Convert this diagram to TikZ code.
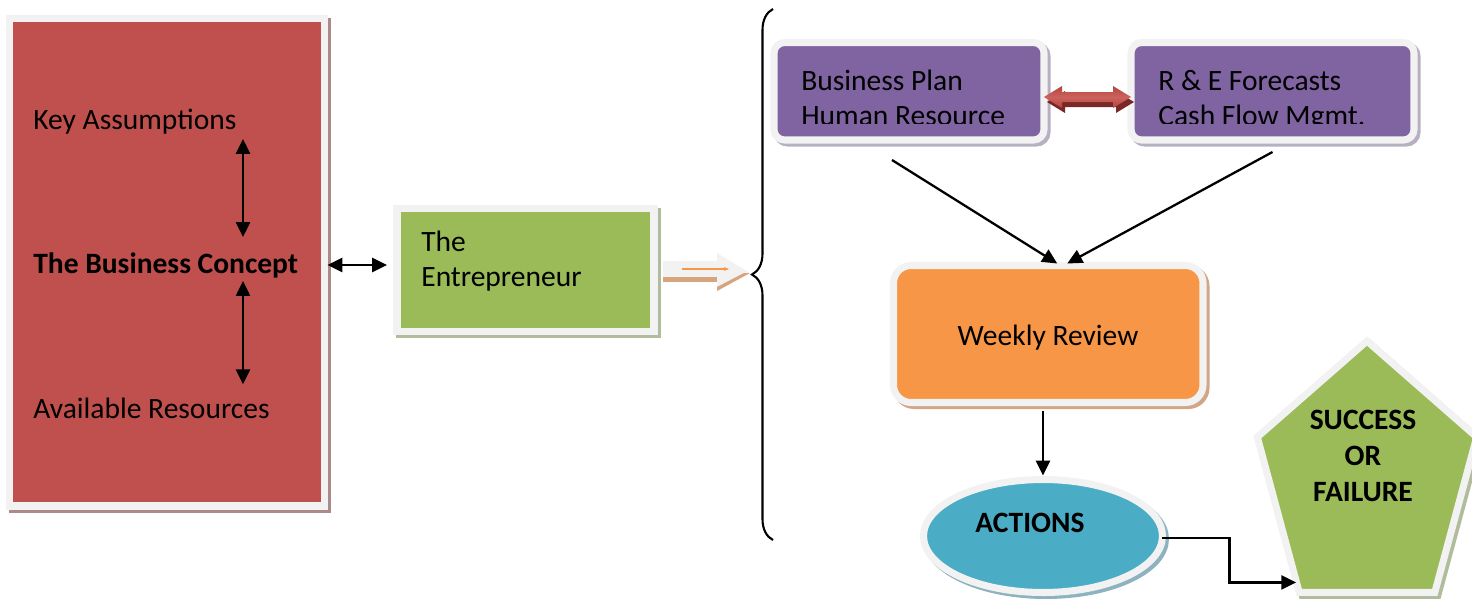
\documentclass[tikz,border=0pt]{standalone}
\usepackage{fontspec}
\setmainfont{Carlito}
\usetikzlibrary{arrows.meta,positioning,calc,fit,shapes.geometric,decorations.pathreplacing}

\definecolor{framegray}{HTML}{F2F2F2}
\definecolor{conceptred}{HTML}{C0504D}
\definecolor{entregreen}{HTML}{9BBB59}
\definecolor{planpurple}{HTML}{8064A2}
\definecolor{revieworange}{HTML}{F79646}
\definecolor{actionblue}{HTML}{4BACC6}
\definecolor{redshade}{HTML}{AD8A8A}
\definecolor{greenshade}{HTML}{B0BC9C}
\definecolor{purpleshade}{HTML}{B7B0C3}
\definecolor{orangeshade}{HTML}{D1A687}
\definecolor{blueshade}{HTML}{8DB3C0}
\definecolor{arrowred}{HTML}{B4443F}
\definecolor{arrowlight}{HTML}{CC625D}
\definecolor{arrowdark}{HTML}{7A2826}
\definecolor{tanstripe}{HTML}{D8A47E}

\begin{document}
\begin{tikzpicture}[
    x=0.02cm, y=-0.02cm,
    panel/.style={draw=framegray, line width=4pt, inner sep=0pt, outer sep=0pt, fill=#1},
    shade/.style={preaction={draw=#1, line width=4pt, transform canvas={xshift=1.7pt, yshift=-1.7pt}}},
    txt/.style={font=\fontsize{16.8}{19.8}\selectfont, inner sep=0pt},
    link/.style={-{Triangle[length=8.5pt,width=8pt]}, line width=1.3pt},
    both/.style={{Triangle[length=8.5pt,width=8pt]}-{Triangle[length=8.5pt,width=8pt]}, line width=1.3pt},
    darkarrow/.style={fill=arrowdark},
    litearrow/.style={top color=arrowred, bottom color=arrowred, middle color=arrowlight}
  ]
  \useasboundingbox (0,0) rectangle (1472,599);

  % left column: concept and entrepreneur
  \node[panel=conceptred, shade=redshade, fit={(9.5,18.5) (324.5,506)}] (concept) {};
  \node[txt, anchor=west] (keyass) at (33,122) {Key Assumptions};
  \node[txt, anchor=west] (bizconcept) at (33,265) {\bfseries The Business Concept};
  \node[txt, anchor=west] (resources) at (33,408) {Available Resources};
  \coordinate (ax) at (243,0);
  \draw[both] ($(keyass.south -| ax)+(0,4)$) -- ($(bizconcept.north -| ax)+(0,-15)$);
  \draw[both] ($(bizconcept.south -| ax)+(0,3)$) -- ($(resources.north -| ax)+(0,-13)$);

  \node[panel=entregreen, shade=greenshade, fit={(397,208.5) (654,331.5)}] (entre) {};
  \node[txt, anchor=north west, align=left] (entrelabel) at (421,231) {The\\Entrepreneur};
  \draw[both] ($(concept.east |- bizconcept)+(3,0)$) -- ($(entre.west |- bizconcept)+(-10,0)$);

  % block arrow into the brace
  \fill[framegray] (663,261) -- (717,261) -- (717,253) -- (750,273) -- (717,291) -- (717,282) -- (663,282) -- cycle;
  \fill[tanstripe] (663,277) rectangle (717,282);
  \fill[tanstripe] (717,291) -- (750,273) -- (744,273) -- (717,287) -- cycle;
  \draw[revieworange, line width=0.8pt, -{Stealth[length=3pt]}] (682,269) -- (729,269);

  \draw[line width=1.2pt, decorate, decoration={brace, amplitude=0.42cm}] (773,540) -- (773,9);

  % planning boxes
  \node[panel=planpurple, shade=purpleshade, rounded corners=6pt, fit={(774,42.5) (1044,140)}] (plan) {};
  \node[panel=planpurple, shade=purpleshade, rounded corners=6pt, fit={(1131,42.5) (1414,140)}] (forecast) {};
  \begin{scope}
    \clip (770,30) rectangle (1420,123);
    \node[txt, anchor=north west, align=left] (planlabel) at (801,70) {Business Plan\\Human Resource};
    \node[txt, anchor=north west, align=left] (forecastlabel) at (1158,70) {R \& E Forecasts\\Cash Flow Mgmt.};
  \end{scope}
  \foreach \dx/\dy/\sty in {3/5/darkarrow, 0/0/litearrow}
    \path[\sty, shift={(\dx,\dy)}] (1044,97) -- (1062,86) -- (1062,92) -- (1113,92) -- (1113,86)
      -- (1131,97) -- (1113,108) -- (1113,102) -- (1062,102) -- (1062,108) -- cycle;

  % review, actions, result
  \node[panel=revieworange, shade=orangeshade, rounded corners=10pt, fit={(893.5,265.5) (1203,402.5)}] (review) {};
  \node[txt] (reviewlabel) at (1048,338) {Weekly Review};
  \draw[link] ([shift={(-17,20)}]plan.south) -- ([shift={(9,-2)}]review.north);
  \draw[link] ([shift={(0,12)}]forecast.south) -- ([shift={(19,-2)}]review.north);

  \node[panel=actionblue, shade=blueshade, ellipse, minimum width=4.78cm, minimum height=2.26cm] (actions) at (1043,536) {};
  \node[txt] (actionslabel) at (1030,523) {\bfseries ACTIONS};
  \draw[link] ($(review.south -| actions.north)+(0,8)$) -- ($(actions.north)+(0,-4)$);

  \node[panel=entregreen, shade=greenshade, regular polygon, regular polygon sides=5,
        minimum size=5.56cm, xscale=0.83, transform shape] (result) at (1367,480) {};
  \node[txt, align=center, font=\fontsize{16.8}{20.4}\selectfont\bfseries] (resultlabel) at (1363,456) {SUCCESS\\OR\\FAILURE};
  \coordinate (resin) at ($(result.corner 3)+(-3,-10)$);
  \draw[link] ([shift={(0,2)}]actions.east) -- ++(67,0) |- (resin);
\end{tikzpicture}
\end{document}
